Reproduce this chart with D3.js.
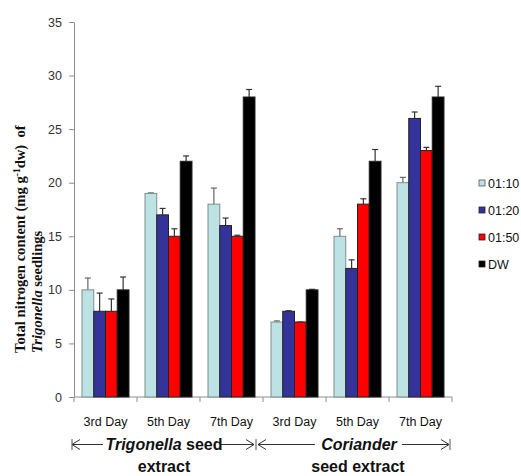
<!DOCTYPE html>
<html>
<head>
<meta charset="utf-8">
<script src="https://cdn.jsdelivr.net/npm/d3@7"></script>
<style>
  body { margin: 0; background: #fff; }
  svg { font-family: "Liberation Sans", Arial, sans-serif; }
</style>
</head>
<body>
<div id="chart"></div>
<script>
// categories along the x axis
var days = ["3rd Day", "5th Day", "7th Day", "3rd Day", "5th Day", "7th Day"];
var series = ["01:10", "01:20", "01:50", "DW"];
var colors = ["#bde2e4", "#333399", "#ff0000", "#000000"];

// mean values, one array per series (first 3 = Trigonella, last 3 = Coriander)
var v0110 = [10, 19, 18, 7, 15, 20];
var v0120 = [8, 17, 16, 8, 12, 26];
var v0150 = [8, 15, 15, 7, 18, 23];
var vDW   = [10, 22, 28, 10, 22, 28];

// top of error bars
var e0110 = [11.1, 19.05, 19.5, 7.1, 15.7, 20.5];
var e0120 = [9.7, 17.6, 16.7, 8.05, 12.8, 26.6];
var e0150 = [9.15, 15.7, 15.1, 7.0, 18.5, 23.3];
var eDW   = [11.2, 22.5, 28.7, 10.05, 23.1, 29.0];

var yTicks = [0, 5, 10, 15, 20, 25, 30, 35];

var values = [v0110, v0120, v0150, vDW];
var errs = [e0110, e0120, e0150, eDW];

var width = 521, height = 476;
var x0 = 74, x1 = 452, yBottom = 397, yTop = 22;

var svg = d3.select("#chart").append("svg")
    .attr("width", width)
    .attr("height", height);

var x = d3.scaleBand()
    .domain(d3.range(days.length))
    .range([x0, x1])
    .paddingInner(0.254)
    .paddingOuter(0.127);

var xs = d3.scaleBand()
    .domain(d3.range(series.length))
    .range([0, x.bandwidth()]);

var y = d3.scaleLinear()
    .domain([0, 35])
    .range([yBottom, yTop]);

// y axis
var yAxis = svg.append("g")
    .attr("transform", "translate(" + x0 + ",0)")
    .call(d3.axisLeft(y).tickValues(yTicks).tickSize(5).tickPadding(7).tickSizeOuter(0));
yAxis.select(".domain").attr("stroke", "#8c8c8c");
yAxis.selectAll(".tick line").attr("stroke", "#8c8c8c");
yAxis.selectAll(".tick text")
    .attr("fill", "#333")
    .style("font-size", "12.5px")
    .style("font-family", "'Liberation Sans', Arial, sans-serif");

// x axis line with ticks between categories
svg.append("line")
    .attr("x1", x0).attr("x2", x1)
    .attr("y1", yBottom).attr("y2", yBottom)
    .attr("stroke", "#8c8c8c");
var step = x.step();
svg.selectAll(".xtick")
    .data(d3.range(days.length + 1))
    .enter().append("line")
    .attr("class", "xtick")
    .attr("x1", function(d){ return x0 + d * step; })
    .attr("x2", function(d){ return x0 + d * step; })
    .attr("y1", yBottom).attr("y2", yBottom + 5)
    .attr("stroke", "#8c8c8c");

// bars
var groups = svg.selectAll(".grp")
    .data(days)
    .enter().append("g")
    .attr("class", "grp")
    .attr("transform", function(d, i){ return "translate(" + x(i) + ",0)"; });

groups.each(function(d, i){
    var g = d3.select(this);
    series.forEach(function(s, j){
        var bx = xs(j), bw = xs.bandwidth();
        var v = values[j][i], e = errs[j][i];
        var cx = bx + bw / 2;
        var ecol = j === 0 ? "#666" : "#333";
        // error bar (upper only)
        g.append("line")
            .attr("x1", cx).attr("x2", cx)
            .attr("y1", y(v)).attr("y2", y(e))
            .attr("stroke", ecol).attr("stroke-width", 1.2);
        g.append("line")
            .attr("x1", cx - 3).attr("x2", cx + 3)
            .attr("y1", y(e)).attr("y2", y(e))
            .attr("stroke", ecol).attr("stroke-width", 1.2);
        g.append("rect")
            .attr("x", bx).attr("width", bw)
            .attr("y", y(v)).attr("height", y(0) - y(v))
            .attr("fill", colors[j])
            .attr("stroke", j === 0 ? "#7f8c8c" : "#222")
            .attr("stroke-width", 1);
    });
});

// day labels
svg.selectAll(".day")
    .data(days)
    .enter().append("text")
    .attr("class", "day")
    .attr("x", function(d, i){ return x(i) + x.bandwidth() / 2; })
    .attr("y", 426)
    .attr("text-anchor", "middle")
    .style("font-size", "12.5px")
    .attr("fill", "#111")
    .text(function(d){ return d; });

// group arrows
var arrows = [[103, 72], [221, 254], [315, 258], [402, 449]];
arrows.forEach(function(a){
    var dir = a[1] > a[0] ? 1 : -1;
    svg.append("line")
        .attr("x1", a[0]).attr("x2", a[1])
        .attr("y1", 444.5).attr("y2", 444.5)
        .attr("stroke", "#333").attr("stroke-width", 1);
    svg.append("path")
        .attr("d", "M" + (a[1] - dir * 8) + ",439.5 L" + a[1] + ",444.5 L" + (a[1] - dir * 8) + ",449.5")
        .attr("fill", "none").attr("stroke", "#333").attr("stroke-width", 1);
});
[72, 256, 450].forEach(function(px){
    svg.append("line")
        .attr("x1", px).attr("x2", px)
        .attr("y1", 439).attr("y2", 450)
        .attr("stroke", "#555").attr("stroke-width", 1);
});

var t1 = svg.append("text")
    .attr("x", 164).attr("y", 450)
    .attr("text-anchor", "middle")
    .style("font-size", "16px").style("font-weight", "bold").attr("fill", "#111");
t1.append("tspan").style("font-style", "italic").text("Trigonella");
t1.append("tspan").text(" seed");
svg.append("text")
    .attr("x", 164).attr("y", 472)
    .attr("text-anchor", "middle")
    .style("font-size", "16px").style("font-weight", "bold").attr("fill", "#111")
    .text("extract");

svg.append("text")
    .attr("x", 359).attr("y", 450)
    .attr("text-anchor", "middle")
    .style("font-size", "16px").style("font-weight", "bold").style("font-style", "italic").attr("fill", "#111")
    .text("Coriander");
svg.append("text")
    .attr("x", 358).attr("y", 472)
    .attr("text-anchor", "middle")
    .style("font-size", "16px").style("font-weight", "bold").attr("fill", "#111")
    .text("seed extract");

// y title
var yt = svg.append("g")
    .attr("transform", "translate(25,353) rotate(-90)")
    .style("font-family", "'Liberation Serif', 'Times New Roman', serif")
    .style("font-weight", "bold")
    .style("font-size", "14.6px")
    .attr("fill", "#111");
var l1 = yt.append("text").attr("x", 0).attr("y", 0);
l1.append("tspan").text("Total nitrogen content (mg g");
l1.append("tspan").attr("dy", -5).style("font-size", "9.5px").text("-1");
l1.append("tspan").attr("dy", 5).text("dw)\u00a0\u00a0of");
var l2 = yt.append("text").attr("x", 0).attr("y", 17);
l2.append("tspan").style("font-style", "italic").text("Trigonella");
l2.append("tspan").text(" seedlings");

// legend
var legend = svg.selectAll(".leg")
    .data(series)
    .enter().append("g")
    .attr("class", "leg")
    .attr("transform", function(d, i){ return "translate(479," + (184 + i * 27) + ")"; });
legend.append("rect")
    .attr("x", 0).attr("y", -4).attr("width", 6).attr("height", 6)
    .attr("fill", function(d, i){ return colors[i]; })
    .attr("stroke", function(d, i){ return i === 0 ? "#555" : "#222"; })
    .attr("stroke-width", 0.8);
legend.append("text")
    .attr("x", 9).attr("y", 4)
    .style("font-size", "12.5px")
    .attr("fill", "#111")
    .text(function(d){ return d; });
</script>
</body>
</html>
